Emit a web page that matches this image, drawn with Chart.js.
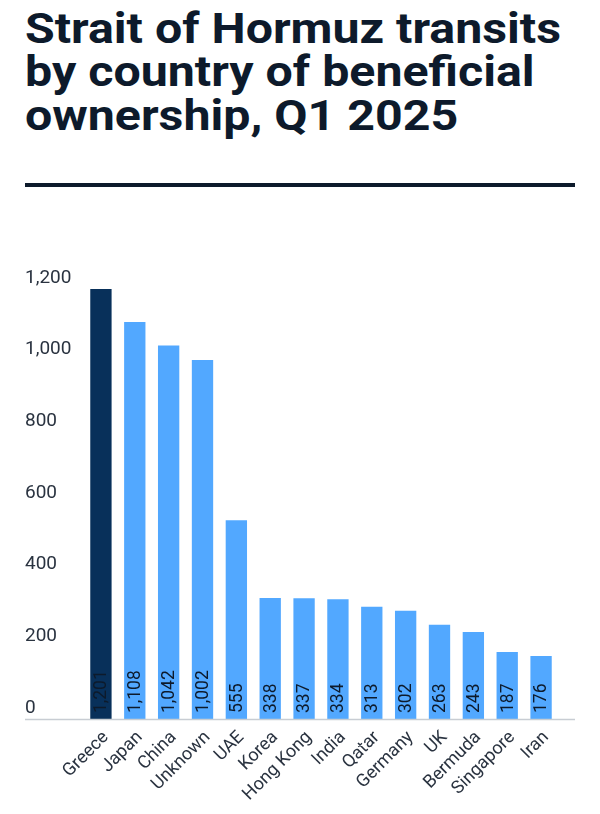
<!DOCTYPE html>
<html>
<head>
<meta charset="utf-8">
<script src="https://cdn.jsdelivr.net/npm/chart.js@4"></script>
<style>
  html, body { margin: 0; padding: 0; background: #ffffff; }
  body { width: 600px; height: 814px; position: relative; overflow: hidden; font-family: Roboto, "Noto Sans", sans-serif; }
  #title { position: absolute; left: 25px; top: 6.5px; white-space: nowrap; font-family: Roboto, sans-serif; font-weight: 700; font-size: 42px; line-height: 43.5px; color: #0d1a2b; margin: 0; transform-origin: 0 0; }
  #title span { display: block; }
  #rule { position: absolute; left: 25px; top: 183px; width: 550px; height: 4px; background: #0d1a2b; }
  #wrap { position: absolute; left: 0; top: 260px; width: 600px; height: 554px; }
</style>
</head>
<body>
<h1 id="title"><span>Strait of Hormuz transits</span><span>by country of beneficial</span><span>ownership, Q1 2025</span></h1>
<div id="rule"></div>
<div id="wrap"><canvas id="c"></canvas></div>
<script>
const categories = ["Greece","Japan","China","Unknown","UAE","Korea","Hong Kong","India","Qatar","Germany","UK","Bermuda","Singapore","Iran"];
const transits = [1201,1108,1042,1002,555,338,337,334,313,302,263,243,187,176];
const yTicks = [0,200,400,600,800,1000,1200];
const highlight = "Greece";

// stretch the title horizontally so its first line spans the same width as in the reference
(function fitTitle() {
  const t = document.getElementById("title");
  const first = t.querySelector("span");
  const r = document.createRange();
  r.selectNodeContents(first);
  const w = r.getBoundingClientRect().width;
  if (w > 0) t.style.transform = "scaleX(" + (536 / w) + ")";
})();

const barColors = categories.map(c => c === highlight ? "#08305a" : "#52a8ff");

const valueLabels = {
  id: "valueLabels",
  afterDatasetsDraw(chart) {
    const ctx = chart.ctx;
    const meta = chart.getDatasetMeta(0);
    const bottom = chart.scales.y.getPixelForValue(0);
    ctx.save();
    ctx.font = "17.5px Roboto, sans-serif";
    ctx.fillStyle = "#0d1a2b";
    ctx.textAlign = "left";
    ctx.textBaseline = "middle";
    meta.data.forEach((bar, i) => {
      ctx.save();
      ctx.translate(bar.x + 1, bottom - 6);
      ctx.rotate(-Math.PI / 2);
      ctx.fillText(transits[i].toLocaleString("en-US"), 0, 0);
      ctx.restore();
    });
    ctx.restore();
  }
};

const baseLine = {
  id: "baseLine",
  afterDraw(chart) {
    const ctx = chart.ctx;
    const y = chart.scales.y.getPixelForValue(0);
    ctx.save();
    ctx.strokeStyle = "#c8cdd3";
    ctx.lineWidth = 1.5;
    ctx.beginPath();
    ctx.moveTo(25, y + 0.5);
    ctx.lineTo(575, y + 0.5);
    ctx.stroke();
    ctx.restore();
  }
};

new Chart(document.getElementById("c"), {
  type: "bar",
  data: {
    labels: categories,
    datasets: [{ data: transits, backgroundColor: barColors, borderWidth: 0, barPercentage: 0.63, categoryPercentage: 1.0 }]
  },
  options: {
    responsive: true,
    maintainAspectRatio: false,
    animation: false,
    layout: { padding: { left: 25, right: 42, top: 29, bottom: 0 } },
    plugins: { legend: { display: false }, tooltip: { enabled: false }, title: { display: false } },
    scales: {
      x: {
        grid: { display: false, drawTicks: false },
        border: { display: false },
        ticks: {
          color: "#2a3340",
          font: { family: "Roboto, sans-serif", size: 18 },
          maxRotation: 45, minRotation: 45,
          padding: 8,
          labelOffset: 5,
          autoSkip: false
        },
        afterFit(scale) { scale.height = 95; }
      },
      y: {
        min: 0, max: 1200,
        afterBuildTicks(scale) { scale.ticks = yTicks.map(v => ({ value: v })); },
        grid: { display: false, drawTicks: false },
        border: { display: false },
        ticks: {
          color: "#2a3340",
          font: { family: "Roboto, sans-serif", size: 19 },
          crossAlign: "far",
          padding: 0,
          labelOffset: -11,
          callback: v => v.toLocaleString("en-US")
        },
        afterFit(scale) { scale.width = 59; }
      }
    }
  },
  plugins: [valueLabels, baseLine]
});
</script>
</body>
</html>
